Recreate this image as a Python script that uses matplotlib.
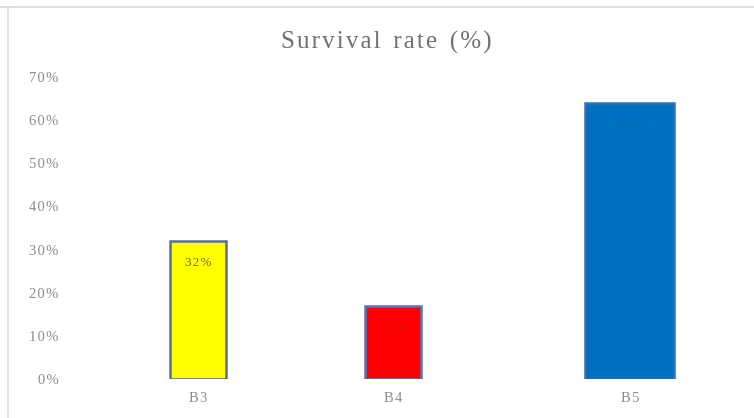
import matplotlib

matplotlib.use("Agg")

import matplotlib.pyplot as plt
from matplotlib.lines import Line2D
from matplotlib.ticker import FuncFormatter, MultipleLocator

categories = ["B3", "B4", "B5"]
survival = [0.32, 0.17, 0.64]
value_labels = ["32%", "17%", "64%"]

fill_colors = ["#FFFF00", "#FF0000", "#0070C0"]
edge_colors = ["#5B6E9C", "#4F78B8", "#2F6FB5"]
label_colors = ["#6B6B2A", "#E01010", "#0A68B5"]

# the reference places B5 a bit further right and draws it wider
positions = [0.0, 1.0, 2.215]
widths = [0.29, 0.29, 0.456]

plt.rcParams["font.family"] = ["Liberation Serif", "DejaVu Serif"]

HAIR = "\u200a"


def spaced(s, gap=HAIR):
    # loose letter spacing like the source rendering
    return gap.join(s)


fig = plt.figure(figsize=(7.54, 4.18), dpi=100)
ax = fig.add_axes([75 / 754, 1 - 379 / 418, 665 / 754, 302 / 418])

ax.bar(
    positions,
    survival,
    width=widths,
    color=fill_colors,
    edgecolor=edge_colors,
    linewidth=1.8,
    zorder=3,
)

for x, y, text, c in zip(positions, survival, value_labels, label_colors):
    ax.annotate(
        spaced(text),
        (x, y),
        xytext=(0, -16),
        textcoords="offset points",
        ha="center",
        va="center",
        fontsize=9.5,
        color=c,
        zorder=4,
    )

ax.set_xlim((75 - 198) / 195, (740 - 198) / 195)
ax.set_ylim(0, 0.70)
ax.yaxis.set_major_locator(MultipleLocator(0.10))
ax.yaxis.set_major_formatter(FuncFormatter(lambda v, _: spaced(f"{v * 100:.0f}%")))
ax.set_xticks(positions)
ax.set_xticklabels([spaced(c) for c in categories])
ax.tick_params(axis="both", length=0, labelsize=10.5, colors="#8C8C8C")
ax.tick_params(axis="x", pad=9)
ax.tick_params(axis="y", pad=12)
for spine in ax.spines.values():
    spine.set_visible(False)

fig.text(
    386 / 754,
    1 - 42 / 418,
    spaced("Survival rate (%)").replace(" ", " " + HAIR),
    ha="center",
    va="center",
    fontsize=18,
    color="#707070",
)

# light chart-area frame at top and left
fig.add_artist(Line2D([0, 1], [1 - 7 / 418] * 2, color="#D9D9D9", lw=1.2, transform=fig.transFigure))
fig.add_artist(Line2D([8 / 754] * 2, [0, 1 - 7 / 418], color="#D9D9D9", lw=1.2, transform=fig.transFigure))

fig.savefig("out.png", dpi=100)
